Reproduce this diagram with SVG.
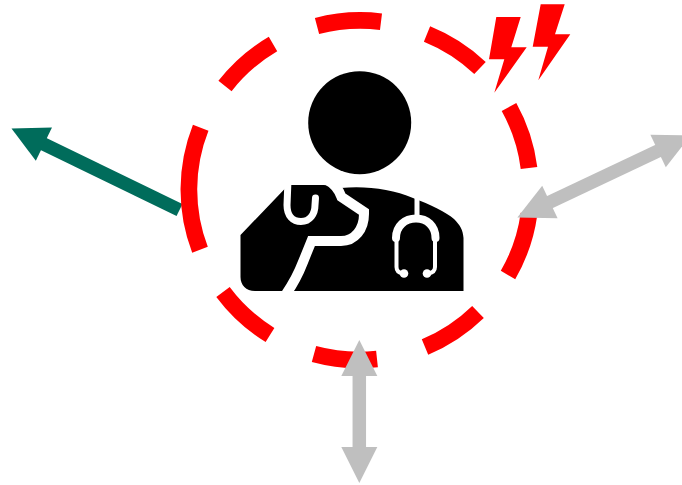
<svg xmlns="http://www.w3.org/2000/svg" width="682" height="485" viewBox="0 0 682 485">
<style>
.ring{fill:none;stroke:#ff0000;stroke-width:16.700}
.green{stroke:#006c5b;stroke-width:13.500;fill:none}
.gray{stroke:#bfbfbf;stroke-width:13.500;fill:none}
.cut{fill:none;stroke:#fff;stroke-linejoin:miter}
.bolt{fill:#ff0000}
</style>
<defs>
<marker id="hg" markerUnits="userSpaceOnUse" markerWidth="36" markerHeight="37" viewBox="0 0 36 37" refX="1" refY="18.500" orient="auto" overflow="visible"><path d="M0 0L36 18.500L0 37Z" fill="#006c5b"/></marker>
<marker id="hs" markerUnits="userSpaceOnUse" markerWidth="36" markerHeight="36" viewBox="0 0 36 36" refX="1" refY="18" orient="auto-start-reverse" overflow="visible"><path d="M0 0L36 18L0 36Z" fill="#bfbfbf"/></marker>
</defs>
<g id="connectors-back">
<path class="green" d="M179.500 210L43 143.700" marker-end="url(#hg)"/>
</g>
<g id="ring">
<path class="ring" d="M317 26A170 169 0 0 1 381 21.700M427 34A170 169 0 0 1 480 68M509 107A170 169 0 0 1 529 168M529 214A170 169 0 0 1 508 275M478 312A170 169 0 0 1 425 347M377 359A170 169 0 0 1 314 354M270 335A170 169 0 0 1 223 292M200 249.700A170 169 0 0 1 200.700 127.700M225 86A170 169 0 0 1 273 44"/>
</g>
<g id="bolts">
<polygon class="bolt" points="496.300,17 520.700,17 511.300,47.300 526.700,47.300 494.300,92.700 504.300,59.300 489,59.300"/>
<polygon class="bolt" points="540.700,4.300 564.700,4.300 555,34.300 570.300,34.300 538.300,80.300 548,46.700 532.700,46.700"/>
</g>
<g id="vet">
<circle cx="359.700" cy="122.700" r="51.500" fill="#000"/>
<path fill="#000" d="M240.500 235L286 187.500L290 185H320C330 185 335 187 341 188C365 185.500 392 189 413 198C430 204 447 213 454 219C460 225 463 230 463.500 238V291H255C246 291 240.500 285 240.500 277Z"/>
<path class="cut" stroke-width="10" d="M327 180C335 184 339 190 341.500 197L364 212V214C364 229 355 241 341 241H311.500L303 262C298 275 293 284 286 294"/>
<path class="cut" stroke-width="7" stroke-linecap="round" d="M288 180L287 205C287 216 293 221.500 301 221.500C310 221.500 315 214 315 205L315.500 198"/>
<path class="cut" stroke-width="5" d="M417 195V216"/>
<path class="cut" stroke-width="8" stroke-linecap="round" d="M396 238C396 226 405 218.500 416 218.500C427 218.500 435.500 226 435.500 238"/>
<path class="cut" stroke-width="4" stroke-linecap="round" d="M396.500 238V267C396.500 271 399 273 403 273.500M435 238V267C435 271 432 273 428 273.500"/>
<circle cx="404" cy="273.500" r="4.300" fill="#fff"/>
<circle cx="427" cy="273.500" r="4.300" fill="#fff"/>
</g>
<g id="connectors">
<path class="gray" d="M549 202.500L659 150.500" marker-start="url(#hs)" marker-end="url(#hs)"/>
<path class="gray" d="M359.300 375V448" marker-start="url(#hs)" marker-end="url(#hs)"/>
</g>
</svg>
